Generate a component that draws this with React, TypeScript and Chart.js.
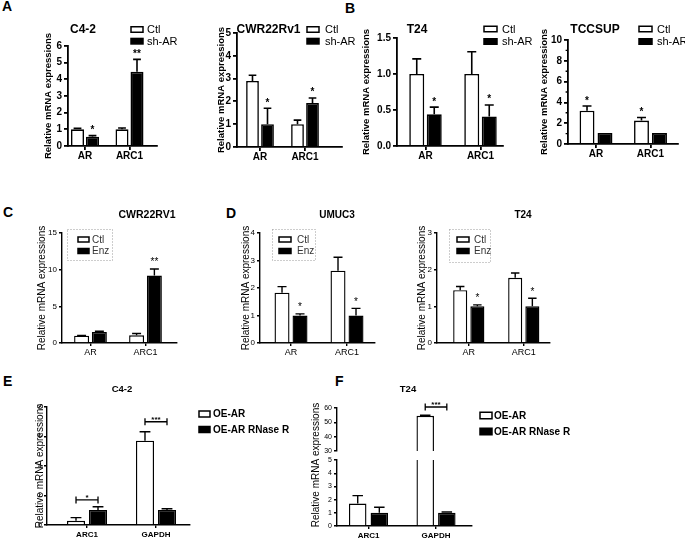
import { useEffect, useRef } from "react";
import { Chart, registerables } from "chart.js";
Chart.register(...registerables);

const SANS = '"Liberation Sans", Arial, Helvetica, sans-serif';
const Y_TITLE = "Relative mRNA expressions";

// ---------------- data ----------------
const AR_CATEGORIES = ["AR", "ARC1"];
const RNASE_CATEGORIES = ["ARC1", "GAPDH"];

// A – C4-2
const A1_CTL = [1.0, 1.0];
const A1_CTL_ERR = [0.06, 0.08];
const A1_SHAR = [0.56, 4.45];
const A1_SHAR_ERR = [0.06, 0.75];
const A1_SIG = ["*", "**"];
// A – CWR22Rv1
const A2_CTL = [2.9, 1.0];
const A2_CTL_ERR = [0.25, 0.18];
const A2_SHAR = [1.0, 1.93];
const A2_SHAR_ERR = [0.7, 0.22];
const A2_SIG = ["*", "*"];
// B – T24
const B1_CTL = [1.0, 1.0];
const B1_CTL_ERR = [0.21, 0.31];
const B1_SHAR = [0.44, 0.41];
const B1_SHAR_ERR = [0.1, 0.16];
const B1_SIG = ["*", "*"];
// B – TCCSUP
const B2_CTL = [3.2, 2.25];
const B2_CTL_ERR = [0.45, 0.3];
const B2_CTL_SIG = ["*", "*"];
const B2_SHAR = [1.05, 1.05];
const B2_SHAR_ERR = [0, 0];
// C – CWR22RV1
const C_CTL = [1.0, 1.05];
const C_CTL_ERR = [0.04, 0.25];
const C_ENZ = [1.5, 9.2];
const C_ENZ_ERR = [0.1, 0.9];
const C_SIG = ["", "**"];
// D – UMUC3
const D1_CTL = [1.83, 2.63];
const D1_CTL_ERR = [0.22, 0.49];
const D1_ENZ = [1.0, 1.0];
const D1_ENZ_ERR = [0.06, 0.26];
const D1_SIG = ["*", "*"];
// D – T24
const D2_CTL = [1.44, 1.78];
const D2_CTL_ERR = [0.1, 0.13];
const D2_ENZ = [1.0, 1.0];
const D2_ENZ_ERR = [0.04, 0.22];
const D2_SIG = ["*", "*"];
// E – C4-2
const E_OE = [0.28, 5.72];
const E_OE_ERR = [0.22, 0.6];
const E_RN = [1.02, 1.02];
const E_RN_ERR = [0.22, 0.08];
const E_BRACKET_Y = [1.7, 7.0];
const E_BRACKET_SIG = ["*", "***"];
// F – T24
const F_OE = [1.7, 54.6];
const F_OE_ERR = [0.6, 0.3];
const F_RN = [1.0, 1.0];
const F_RN_ERR = [0.42, 0.06];
const F_BRACKET_Y = [null, 60.7];
const F_BRACKET_SIG = ["", "***"];

// ---------------- types ----------------
type Font = { family: string; size: number; weight?: string };
type Series = { label: string; fill: string; values: number[]; errors: number[]; stars?: string[] };
type Panel = {
  key: string;
  canvas: number[];
  area: number[];
  xRange: number[];
  categories: string[];
  series: Series[];
  catPct: number;
  barPct: number;
  barBorder: number;
  axisW: number;
  y: { min: number; max: number; step: number; dec: number; minor?: number };
  tickFont: Font;
  tickLen: number;
  xFont: Font;
  xH: number;
  xPad: number;
  showX: boolean;
  yTitle?: { text: string; x: number; font: Font };
  freeYTitle?: { text: string; x: number; y: number; font: string };
  title?: { text: string; x: number; y: number; font: string };
  legend?: { boxX: number; boxW: number; boxH: number; rows: number[]; textX: number; font: string; color: string; frame?: number[] };
  starFont: string;
  starGap: number;
  brackets?: { values: (number | null)[]; labels: string[]; font: string };
};

const bold = (size: number): Font => ({ family: SANS, size, weight: "bold" });
const reg = (size: number): Font => ({ family: SANS, size, weight: "normal" });

const ABStyle = {
  barBorder: 1.6,
  axisW: 1.8,
  tickFont: bold(10),
  tickLen: 4,
  xFont: bold(10),
  xH: 16,
  xPad: 0,
  showX: true,
  starFont: `bold 10px ${SANS}`,
  starGap: 2.5,
};
const CDStyle = {
  barBorder: 1.4,
  axisW: 1.4,
  tickFont: reg(8),
  tickLen: 3,
  xFont: reg(9),
  xH: 16,
  xPad: 1.6,
  showX: true,
  starFont: `10px ${SANS}`,
  starGap: 3.5,
};
const EFStyle = {
  barBorder: 1.4,
  axisW: 1.4,
  tickFont: reg(7),
  tickLen: 3,
  xFont: bold(8),
  xH: 15,
  xPad: 2,
  showX: true,
  starFont: `bold 8px ${SANS}`,
  starGap: 2,
};

const PANELS: Panel[] = [
  {
    key: "A1",
    ...ABStyle,
    canvas: [30, 15, 160, 152],
    area: [68, 46, 157, 146],
    xRange: [-0.382, 1.618],
    categories: AR_CATEGORIES,
    series: [
      { label: "Ctl", fill: "#fff", values: A1_CTL, errors: A1_CTL_ERR },
      { label: "sh-AR", fill: "#000", values: A1_SHAR, errors: A1_SHAR_ERR, stars: A1_SIG },
    ],
    catPct: 0.674,
    barPct: 0.867,
    y: { min: 0, max: 6, step: 1, dec: 0 },
    yTitle: { text: Y_TITLE, x: 48, font: bold(9.5) },
    title: { text: "C4-2", x: 83, y: 29.5, font: `bold 12px ${SANS}` },
    legend: { boxX: 131, boxW: 12, boxH: 5.5, rows: [29.5, 41.2], textX: 147, font: `11px ${SANS}`, color: "#000" },
  },
  {
    key: "A2",
    ...ABStyle,
    canvas: [205, 15, 150, 152],
    area: [237, 33, 342, 147],
    xRange: [-0.511, 1.822],
    categories: AR_CATEGORIES,
    series: [
      { label: "Ctl", fill: "#fff", values: A2_CTL, errors: A2_CTL_ERR },
      { label: "sh-AR", fill: "#000", values: A2_SHAR, errors: A2_SHAR_ERR, stars: A2_SIG },
    ],
    catPct: 0.667,
    barPct: 0.85,
    y: { min: 0, max: 5, step: 1, dec: 0 },
    yTitle: { text: Y_TITLE, x: 221, font: bold(9.5) },
    title: { text: "CWR22Rv1", x: 268.5, y: 30, font: `bold 12px ${SANS}` },
    legend: { boxX: 307, boxW: 12, boxH: 5.5, rows: [29.5, 41.2], textX: 325, font: `11px ${SANS}`, color: "#000" },
  },
  {
    key: "B1",
    ...ABStyle,
    canvas: [355, 15, 185, 152],
    area: [397, 38, 503, 146],
    xRange: [-0.518, 1.409],
    categories: AR_CATEGORIES,
    series: [
      { label: "Ctl", fill: "#fff", values: B1_CTL, errors: B1_CTL_ERR },
      { label: "sh-AR", fill: "#000", values: B1_SHAR, errors: B1_SHAR_ERR, stars: B1_SIG },
    ],
    catPct: 0.636,
    barPct: 0.857,
    y: { min: 0, max: 1.5, step: 0.5, dec: 1 },
    yTitle: { text: Y_TITLE, x: 366, font: bold(9.5) },
    title: { text: "T24", x: 417, y: 30, font: `bold 12px ${SANS}` },
    legend: { boxX: 484, boxW: 13, boxH: 5.5, rows: [29, 41.5], textX: 502, font: `11px ${SANS}`, color: "#000" },
  },
  {
    key: "B2",
    ...ABStyle,
    canvas: [530, 15, 155, 152],
    area: [568, 40, 678, 144],
    xRange: [-0.514, 1.505],
    categories: AR_CATEGORIES,
    series: [
      { label: "Ctl", fill: "#fff", values: B2_CTL, errors: B2_CTL_ERR, stars: B2_CTL_SIG },
      { label: "sh-AR", fill: "#000", values: B2_SHAR, errors: B2_SHAR_ERR },
    ],
    catPct: 0.66,
    barPct: 0.83,
    y: { min: 0, max: 10, step: 2, dec: 0, minor: 1 },
    yTitle: { text: Y_TITLE, x: 544, font: bold(9.5) },
    title: { text: "TCCSUP", x: 595, y: 30, font: `bold 12px ${SANS}` },
    legend: { boxX: 639, boxW: 13, boxH: 5.5, rows: [29, 41.5], textX: 657, font: `11px ${SANS}`, color: "#000" },
  },
  {
    key: "C",
    ...CDStyle,
    canvas: [20, 195, 180, 170],
    area: [62, 233, 177, 343],
    xRange: [-0.518, 1.573],
    categories: AR_CATEGORIES,
    series: [
      { label: "Ctl", fill: "#fff", values: C_CTL, errors: C_CTL_ERR },
      { label: "Enz", fill: "#000", values: C_ENZ, errors: C_ENZ_ERR, stars: C_SIG },
    ],
    catPct: 0.647,
    barPct: 0.84,
    y: { min: 0, max: 15, step: 5, dec: 0 },
    yTitle: { text: Y_TITLE, x: 42, font: reg(10) },
    title: { text: "CWR22RV1", x: 147, y: 215, font: `bold 10.5px ${SANS}` },
    legend: { boxX: 78, boxW: 11, boxH: 5, rows: [239.5, 251], textX: 92, font: `10px ${SANS}`, color: "#333", frame: [67, 229, 112, 260] },
  },
  {
    key: "D1",
    ...CDStyle,
    canvas: [225, 195, 165, 170],
    area: [260, 233, 375, 343],
    xRange: [-0.554, 1.5],
    categories: AR_CATEGORIES,
    series: [
      { label: "Ctl", fill: "#fff", values: D1_CTL, errors: D1_CTL_ERR },
      { label: "Enz", fill: "#000", values: D1_ENZ, errors: D1_ENZ_ERR, stars: D1_SIG },
    ],
    catPct: 0.643,
    barPct: 0.833,
    y: { min: 0, max: 4, step: 1, dec: 0 },
    yTitle: { text: Y_TITLE, x: 246, font: reg(10) },
    title: { text: "UMUC3", x: 337, y: 215, font: `bold 10px ${SANS}` },
    legend: { boxX: 279, boxW: 12, boxH: 5, rows: [239.5, 251], textX: 297, font: `10px ${SANS}`, color: "#333", frame: [272, 229, 315, 260] },
  },
  {
    key: "D2",
    ...CDStyle,
    canvas: [400, 195, 165, 170],
    area: [437, 233, 550, 343],
    xRange: [-0.578, 1.477],
    categories: AR_CATEGORIES,
    series: [
      { label: "Ctl", fill: "#fff", values: D2_CTL, errors: D2_CTL_ERR },
      { label: "Enz", fill: "#000", values: D2_ENZ, errors: D2_ENZ_ERR, stars: D2_SIG },
    ],
    catPct: 0.624,
    barPct: 0.82,
    y: { min: 0, max: 3, step: 1, dec: 0 },
    yTitle: { text: Y_TITLE, x: 422, font: reg(10) },
    title: { text: "T24", x: 523, y: 215, font: `bold 10px ${SANS}` },
    legend: { boxX: 457, boxW: 12, boxH: 5, rows: [239.5, 251], textX: 474, font: `10px ${SANS}`, color: "#333", frame: [449, 229, 490, 262] },
  },
  {
    key: "E",
    ...EFStyle,
    canvas: [20, 380, 300, 164],
    area: [47, 407, 190, 525],
    xRange: [-0.58, 1.493],
    categories: RNASE_CATEGORIES,
    series: [
      { label: "OE-AR", fill: "#fff", values: E_OE, errors: E_OE_ERR },
      { label: "OE-AR RNase R", fill: "#000", values: E_RN, errors: E_RN_ERR },
    ],
    catPct: 0.638,
    barPct: 0.82,
    y: { min: 0, max: 8, step: 2, dec: 0 },
    yTitle: { text: Y_TITLE, x: 40.5, font: reg(10) },
    title: { text: "C4-2", x: 122, y: 389, font: `bold 9.5px ${SANS}` },
    legend: { boxX: 199, boxW: 11, boxH: 6, rows: [414, 429.5], textX: 213, font: `bold 10px ${SANS}`, color: "#000" },
    brackets: { values: E_BRACKET_Y, labels: E_BRACKET_SIG, font: `bold 8px ${SANS}` },
  },
  {
    key: "F_low",
    ...EFStyle,
    canvas: [300, 378, 385, 166],
    area: [337, 460, 472, 526],
    xRange: [-0.467, 1.533],
    categories: RNASE_CATEGORIES,
    series: [
      { label: "OE-AR", fill: "#fff", values: F_OE, errors: F_OE_ERR },
      { label: "OE-AR RNase R", fill: "#000", values: F_RN, errors: F_RN_ERR },
    ],
    catPct: 0.64,
    barPct: 0.81,
    y: { min: 0, max: 5, step: 1, dec: 0 },
    freeYTitle: { text: Y_TITLE, x: 316, y: 465, font: `10px ${SANS}` },
    title: { text: "T24", x: 408, y: 389, font: `bold 9.5px ${SANS}` },
    legend: { boxX: 480, boxW: 12, boxH: 6.5, rows: [415.5, 431.5], textX: 494, font: `bold 10px ${SANS}`, color: "#000" },
  },
  {
    key: "F_up",
    ...EFStyle,
    showX: false,
    xH: 0,
    canvas: [300, 395, 200, 60],
    area: [337, 408, 472, 451],
    xRange: [-0.467, 1.533],
    categories: RNASE_CATEGORIES,
    series: [
      { label: "OE-AR", fill: "#fff", values: F_OE, errors: F_OE_ERR },
      { label: "OE-AR RNase R", fill: "#000", values: F_RN, errors: F_RN_ERR },
    ],
    catPct: 0.64,
    barPct: 0.81,
    y: { min: 30, max: 60, step: 10, dec: 0 },
    brackets: { values: F_BRACKET_Y, labels: F_BRACKET_SIG, font: `bold 8px ${SANS}` },
  },
];

const LETTERS: [string, number, number][] = [
  ["A", 2, 10.5],
  ["B", 345, 12.5],
  ["C", 3, 217],
  ["D", 226, 218],
  ["E", 3, 386],
  ["F", 335, 386],
];

// ---------------- drawing helpers ----------------
function makeDecor(p: Panel) {
  return {
    id: "decor_" + p.key,
    afterDraw(chart: any) {
      const ctx: CanvasRenderingContext2D = chart.ctx;
      const cl = p.canvas[0];
      const ct = p.canvas[1];
      const ys = chart.scales.y;
      const a = chart.chartArea;
      ctx.save();
      ctx.strokeStyle = "#000";
      ctx.fillStyle = "#000";

      // minor ticks
      if (p.y.minor) {
        ctx.lineWidth = p.axisW * 0.8;
        ctx.beginPath();
        for (let v = p.y.min; v <= p.y.max + 1e-9; v += p.y.minor) {
          const r = v / p.y.step;
          if (Math.abs(r - Math.round(r)) < 1e-6) continue;
          const py = ys.getPixelForValue(v);
          ctx.moveTo(a.left - p.tickLen * 0.6, py);
          ctx.lineTo(a.left, py);
        }
        ctx.stroke();
      }

      // error bars
      ctx.save();
      ctx.beginPath();
      ctx.rect(a.left, a.top - 40, a.right - a.left, a.bottom - a.top + 40);
      ctx.clip();
      ctx.lineWidth = p.barBorder;
      p.series.forEach((s, si) => {
        const meta = chart.getDatasetMeta(si);
        s.values.forEach((v, j) => {
          const e = s.errors[j];
          const bar = meta.data[j];
          if (!bar || !(e > 0)) return;
          const top = ys.getPixelForValue(v + e);
          const base = ys.getPixelForValue(v);
          const half = bar.width * 0.3;
          ctx.beginPath();
          ctx.moveTo(bar.x, base);
          ctx.lineTo(bar.x, top);
          ctx.moveTo(bar.x - half, top);
          ctx.lineTo(bar.x + half, top);
          ctx.stroke();
        });
      });
      ctx.restore();

      // significance stars
      ctx.font = p.starFont;
      ctx.textAlign = "center";
      ctx.textBaseline = "alphabetic";
      p.series.forEach((s, si) => {
        if (!s.stars) return;
        const meta = chart.getDatasetMeta(si);
        s.stars.forEach((t, j) => {
          if (!t) return;
          const bar = meta.data[j];
          const top = ys.getPixelForValue(s.values[j] + s.errors[j]);
          ctx.fillText(t, bar.x, top - p.starGap);
        });
      });

      // brackets
      if (p.brackets) {
        const m0 = chart.getDatasetMeta(0);
        const m1 = chart.getDatasetMeta(1);
        p.brackets.values.forEach((bv, j) => {
          if (bv == null) return;
          const xa = m0.data[j].x;
          const xb = m1.data[j].x;
          const py = ys.getPixelForValue(bv);
          ctx.lineWidth = 1.3;
          ctx.beginPath();
          ctx.moveTo(xa, py - 3.5);
          ctx.lineTo(xa, py + 3.5);
          ctx.moveTo(xa, py);
          ctx.lineTo(xb, py);
          ctx.moveTo(xb, py - 3.5);
          ctx.lineTo(xb, py + 3.5);
          ctx.stroke();
          ctx.font = p.brackets!.font;
          ctx.textAlign = "center";
          ctx.textBaseline = "alphabetic";
          ctx.fillText(p.brackets!.labels[j], (xa + xb) / 2, py + 0.5);
        });
      }

      // panel title
      if (p.title) {
        ctx.font = p.title.font;
        ctx.textAlign = "center";
        ctx.textBaseline = "middle";
        ctx.fillStyle = "#000";
        ctx.fillText(p.title.text, p.title.x - cl, p.title.y - ct);
      }

      // legend
      const L = p.legend;
      if (L) {
        if (L.frame) {
          ctx.save();
          ctx.setLineDash([1, 2]);
          ctx.strokeStyle = "#9a9a9a";
          ctx.lineWidth = 1;
          ctx.strokeRect(L.frame[0] - cl + 0.5, L.frame[1] - ct + 0.5, L.frame[2] - L.frame[0], L.frame[3] - L.frame[1]);
          ctx.restore();
        }
        p.series.forEach((s, i) => {
          const cy = L.rows[i] - ct;
          const bx = L.boxX - cl;
          ctx.fillStyle = s.fill;
          ctx.fillRect(bx, cy - L.boxH / 2, L.boxW, L.boxH);
          ctx.strokeStyle = "#000";
          ctx.lineWidth = 1.5;
          ctx.strokeRect(bx, cy - L.boxH / 2, L.boxW, L.boxH);
          ctx.fillStyle = L.color;
          ctx.font = L.font;
          ctx.textAlign = "left";
          ctx.textBaseline = "middle";
          ctx.fillText(s.label, L.textX - cl, cy + 0.5);
        });
      }

      // free-standing y title (broken axis)
      if (p.freeYTitle) {
        const f = p.freeYTitle;
        ctx.save();
        ctx.translate(f.x - cl, f.y - ct);
        ctx.rotate(-Math.PI / 2);
        ctx.font = f.font;
        ctx.fillStyle = "#000";
        ctx.textAlign = "center";
        ctx.textBaseline = "middle";
        ctx.fillText(f.text, 0, 0);
        ctx.restore();
      }
      ctx.restore();
    },
  };
}

function makeConfig(p: Panel): any {
  const [cl, ct, cw, ch] = p.canvas;
  const [x0, y0, x1, y1] = p.area;
  const scaleLeft = p.yTitle ? p.yTitle.x - 0.6 * p.yTitle.font.size : x0 - 24;
  const yW = x0 - scaleLeft;
  const xH = p.showX ? p.xH : 0;
  const padding = {
    left: scaleLeft - cl,
    top: y0 - ct,
    right: cl + cw - x1,
    bottom: ct + ch - y1 - xH,
  };
  const zeroPad = (s: any) => {
    s.paddingLeft = 0;
    s.paddingRight = 0;
    s.paddingTop = 0;
    s.paddingBottom = 0;
  };
  return {
    type: "bar",
    data: {
      datasets: p.series.map((s) => ({
        label: s.label,
        data: s.values.map((v, i) => ({ x: i, y: v })),
        backgroundColor: s.fill,
        borderColor: "#000",
        borderWidth: p.barBorder,
        categoryPercentage: p.catPct,
        barPercentage: p.barPct,
        clip: 0,
      })),
    },
    options: {
      responsive: false,
      animation: false,
      devicePixelRatio: 1,
      events: [],
      layout: { padding },
      plugins: {
        legend: { display: false },
        tooltip: { enabled: false },
        title: { display: false },
      },
      scales: {
        x: {
          type: "linear",
          min: p.xRange[0],
          max: p.xRange[1],
          bounds: "data",
          offset: false,
          display: p.showX,
          grid: {
            display: true,
            drawOnChartArea: false,
            drawTicks: true,
            tickLength: p.tickLen,
            color: "#000",
            lineWidth: p.axisW,
            offset: false,
          },
          border: { display: true, color: "#000", width: p.axisW },
          ticks: {
            font: p.xFont,
            color: "#000",
            padding: p.xPad,
            autoSkip: false,
            maxRotation: 0,
            minRotation: 0,
            callback: (v: any) => p.categories[Math.round(Number(v))] ?? "",
          },
          afterBuildTicks: (s: any) => {
            s.ticks = p.categories.map((_, i) => ({ value: i }));
          },
          afterFit: (s: any) => {
            s.height = xH;
            zeroPad(s);
          },
        },
        y: {
          type: "linear",
          min: p.y.min,
          max: p.y.max,
          bounds: "data",
          grid: {
            display: true,
            drawOnChartArea: false,
            drawTicks: true,
            tickLength: p.tickLen,
            color: "#000",
            lineWidth: p.axisW,
          },
          border: { display: true, color: "#000", width: p.axisW },
          ticks: {
            stepSize: p.y.step,
            font: p.tickFont,
            color: "#000",
            padding: 2,
            callback: (v: any) => Number(v).toFixed(p.y.dec),
          },
          title: p.yTitle
            ? { display: true, text: p.yTitle.text, font: p.yTitle.font, color: "#000", padding: 0 }
            : { display: false },
          afterFit: (s: any) => {
            s.width = yW;
            zeroPad(s);
          },
        },
      },
    },
    plugins: [makeDecor(p)],
  };
}

function PanelChart({ p }: { p: Panel }) {
  const ref = useRef<HTMLCanvasElement>(null);
  useEffect(() => {
    if (!ref.current) return;
    const chart = new Chart(ref.current, makeConfig(p));
    return () => chart.destroy();
  }, [p]);
  const [l, t, w, h] = p.canvas;
  return (
    <canvas
      ref={ref}
      width={w}
      height={h}
      style={{ position: "absolute", left: l, top: t, width: w, height: h }}
    />
  );
}

export default function App() {
  return (
    <div
      style={{
        position: "absolute",
        left: 0,
        top: 0,
        width: 685,
        height: 544,
        background: "#fff",
        overflow: "hidden",
      }}
    >
      {LETTERS.map(([txt, x, base]) => (
        <span
          key={txt}
          style={{
            position: "absolute",
            left: x,
            top: base - 11.85,
            fontFamily: SANS,
            fontWeight: "bold",
            fontSize: 14,
            lineHeight: "14px",
            color: "#000",
          }}
        >
          {txt}
        </span>
      ))}
      {PANELS.map((p) => (
        <PanelChart key={p.key} p={p} />
      ))}
    </div>
  );
}
